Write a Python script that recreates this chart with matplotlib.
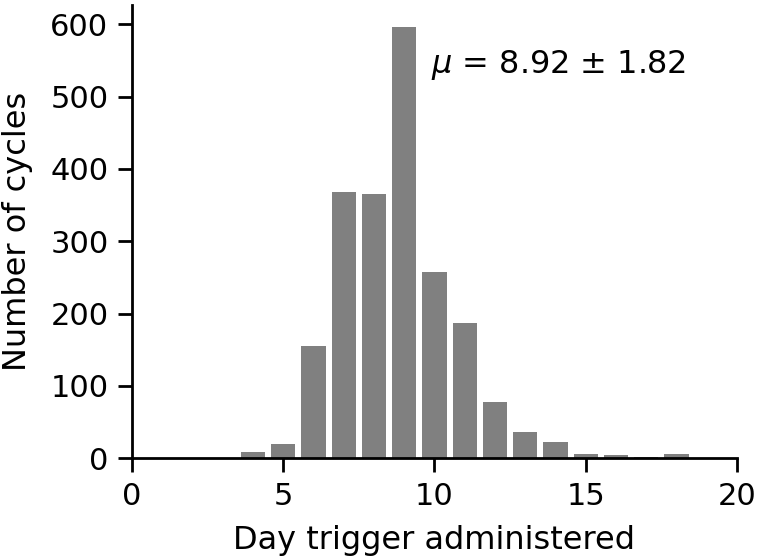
import numpy as np
import matplotlib
matplotlib.use("Agg")
import matplotlib.pyplot as plt

days = [4, 5, 6, 7, 8, 9, 10, 11, 12, 13, 14, 15, 16, 17, 18]
cycles = [9, 20, 155, 368, 366, 597, 257, 187, 78, 36, 22, 6, 4, 1, 6]

fig = plt.figure(figsize=(7.6, 5.6), dpi=100)
ax = fig.add_axes([0.1737, 0.182, 0.796, 0.809])

ax.bar(days, cycles, width=0.8, color="gray")
ax.set_xlim(0, 20)
ax.set_xticks([0, 5, 10, 15, 20])
ax.set_yticks([0, 100, 200, 300, 400, 500, 600])

ax.spines["top"].set_visible(False)
ax.spines["right"].set_visible(False)
for s in ["left", "bottom"]:
    ax.spines[s].set_linewidth(2)
ax.tick_params(labelsize=22, length=10, width=2, pad=7)

ax.set_xlabel("Day trigger administered", fontsize=23, labelpad=10)
ax.set_ylabel("Number of cycles", fontsize=23, labelpad=12)
ax.text(9.9, 544, r"$\mu$ = 8.92 $\pm$ 1.82", fontsize=23, va="center")

fig.savefig("out.png")
